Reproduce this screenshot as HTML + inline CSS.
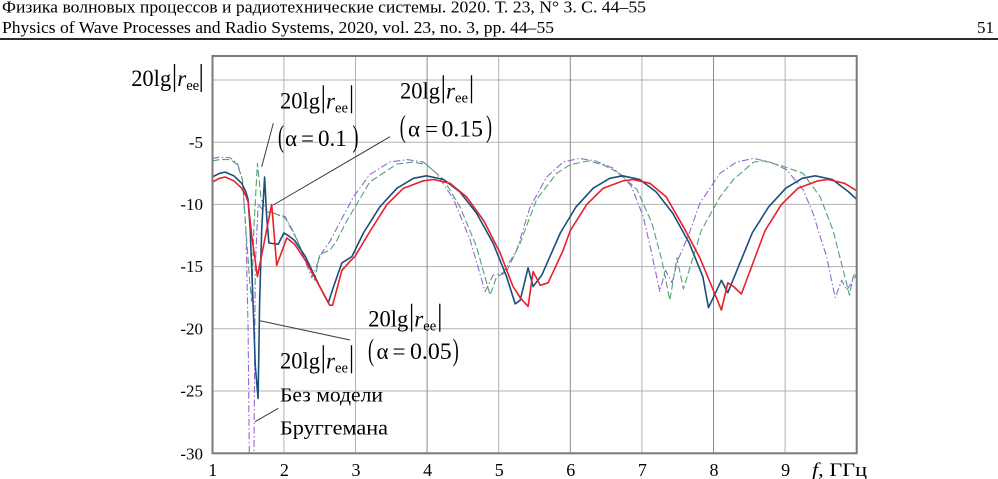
<!DOCTYPE html>
<html>
<head>
<meta charset="utf-8">
<style>
  html, body { margin: 0; padding: 0; background: #fff; }
  body { width: 998px; height: 479px; overflow: hidden; }
  svg { display: block; }
  text { font-family: "Liberation Serif", "DejaVu Serif", serif; fill: #000; }
</style>
</head>
<body>
<svg width="998" height="479" viewBox="0 0 998 479" xmlns="http://www.w3.org/2000/svg">
  <rect x="0" y="0" width="998" height="479" fill="#fff"/>

  <!-- Header -->
  <text x="2" y="12.5" font-size="17" textLength="644" lengthAdjust="spacingAndGlyphs" fill="#222">Физика волновых процессов и радиотехнические системы. 2020. Т. 23, N° 3. С. 44–55</text>
  <text x="2" y="33" font-size="17" textLength="552" lengthAdjust="spacingAndGlyphs" fill="#222">Physics of Wave Processes and Radio Systems, 2020, vol. 23, no. 3, pp. 44–55</text>
  <text x="994" y="33" font-size="17" text-anchor="end" fill="#222">51</text>
  <rect x="0" y="38" width="998" height="2" fill="#2a2a2a"/>

  <!-- Grid -->
  <g stroke="#b3b3b3" stroke-width="1">
    <line x1="212.3" y1="80" x2="856.7" y2="80"/>
    <line x1="212.3" y1="142.2" x2="856.7" y2="142.2"/>
    <line x1="212.3" y1="204.4" x2="856.7" y2="204.4"/>
    <line x1="212.3" y1="266.6" x2="856.7" y2="266.6"/>
    <line x1="212.3" y1="328.8" x2="856.7" y2="328.8"/>
    <line x1="212.3" y1="391.0" x2="856.7" y2="391.0"/>
    <line x1="283.9" y1="56" x2="283.9" y2="453.3"/>
    <line x1="355.5" y1="56" x2="355.5" y2="453.3"/>
    <line x1="498.7" y1="56" x2="498.7" y2="453.3"/>
    <line x1="641.9" y1="56" x2="641.9" y2="453.3"/>
    <line x1="785.1" y1="56" x2="785.1" y2="453.3"/>
  </g>
  <g stroke="#8c8c8c" stroke-width="1">
    <line x1="427.1" y1="56" x2="427.1" y2="453.3"/>
    <line x1="570.3" y1="56" x2="570.3" y2="453.3"/>
    <line x1="713.5" y1="56" x2="713.5" y2="453.3"/>
  </g>

  <defs>
    <clipPath id="plot">
      <rect x="212.3" y="56" width="644.4" height="397.3"/>
    </clipPath>
  </defs>

  <g clip-path="url(#plot)" fill="none" stroke-linejoin="round">
    <!-- Purple dash-dot -->
    <path stroke="#9366d2" stroke-width="1.1" stroke-dasharray="7 2.5 1.5 2.5"
      d="M212.3,158.4 L219.5,157.1 L230.2,157.8 L237.4,163.3 L242.4,179.5 L245.9,229.3 L248.1,328.8 L249.5,478 L253.8,478 L255.3,266.6 L258.1,204.4 L262.4,209.4 L273.9,213.1 L285.3,216.8 L295.4,235.5 L305.4,261.6 L311.8,277.8 L321.8,252.9 L329.7,241.7 L353.4,196.9 L369.8,174.5 L389.9,162.1 L407.1,159.6 L423.5,162.1 L436.4,173.3 L453.6,199.4 L470.3,240.5 L485.1,291.5 L493.0,275.3 L503.0,272.8 L516.6,250.4 L530.2,206.9 L546.7,177.0 L563.1,162.1 L578.9,158.4 L595.4,160.9 L613.3,168.3 L631.2,185.7 L643.3,216.8 L650.5,247.9 L659.8,291.5 L665.5,270.3 L672.0,282.8 L677.7,260.4 L688.4,235.5 L699.9,203.2 L720.0,173.3 L736.4,162.1 L753.6,158.4 L770.1,162.1 L786.5,169.6 L803.0,189.5 L813.0,213.1 L820.2,236.7 L826.6,256.6 L835.2,297.7 L841.7,280.3 L846.7,290.2 L855.3,276.6 L856.7,272.8"/>
    <!-- Green dashed -->
    <path stroke="#4fa271" stroke-width="1.1" stroke-dasharray="7 3"
      d="M212.3,160.9 L219.5,159.6 L230.2,159.6 L237.4,164.6 L242.4,179.5 L245.9,229.3 L249.5,279.0 L251.7,301.4 L253.8,229.3 L257.4,163.3 L261.0,198.2 L266.7,211.9 L273.9,213.1 L285.3,218.1 L295.4,236.7 L305.4,257.9 L314.7,280.3 L319.7,254.2 L329.7,250.4 L336.2,241.7 L346.9,220.6 L369.8,182.0 L397.0,164.0 L413.5,162.1 L426.4,164.6 L443.6,179.5 L460.0,206.9 L476.5,246.7 L490.1,295.2 L496.6,276.6 L505.9,272.8 L520.2,243.0 L536.6,199.4 L556.7,173.3 L570.3,164.6 L588.2,160.9 L602.5,164.6 L619.7,173.3 L636.9,189.5 L651.9,223.1 L661.9,260.4 L669.8,300.2 L677.0,257.9 L683.4,289.0 L701.3,230.5 L720.0,196.9 L733.5,179.5 L753.6,162.1 L763.6,160.9 L781.5,165.8 L803.0,173.3 L820.2,196.9 L833.1,230.5 L849.5,295.2 L853.1,276.6 L856.7,270.3"/>
    <!-- Blue solid -->
    <path stroke="#1b4f7d" stroke-width="1.6"
      d="M212.3,177.0 L219.5,173.3 L225.2,172.1 L233.8,175.8 L241.7,183.3 L245.9,192.0 L248.1,199.4 L250.2,229.3 L253.1,303.9 L255.3,366.1 L258.1,398.5 L259.6,303.9 L261.7,229.3 L264.6,177.0 L266.7,216.8 L268.9,243.0 L278.2,244.2 L283.9,233.0 L288.2,235.5 L294.6,240.5 L305.4,256.6 L319.7,286.5 L328.3,302.7 L334.0,285.3 L341.9,262.9 L351.9,256.6 L363.4,233.0 L379.8,206.9 L397.0,188.2 L413.5,178.3 L426.4,175.8 L443.6,179.5 L460.0,192.0 L476.5,213.1 L493.0,243.0 L506.6,276.6 L515.2,303.9 L520.2,300.2 L528.1,267.8 L533.1,286.5 L541.7,275.3 L560.3,233.0 L576.0,206.9 L593.2,188.2 L609.7,178.3 L622.6,175.8 L639.7,179.5 L656.2,192.0 L672.7,213.1 L689.2,243.0 L702.8,276.6 L708.5,307.7 L721.4,280.3 L727.8,292.7 L752.2,233.0 L768.6,206.9 L785.8,188.2 L802.3,178.3 L815.2,175.8 L832.4,179.5 L848.8,192.0 L856.7,199.4"/>
    <!-- Red solid -->
    <path stroke="#e8202a" stroke-width="1.6"
      d="M212.3,182.0 L219.5,178.3 L225.2,177.0 L233.8,180.8 L241.7,188.2 L245.9,195.7 L248.1,201.9 L251.7,235.5 L257.4,276.6 L271.7,204.4 L276.7,265.4 L286.8,238.0 L294.6,244.2 L305.4,260.4 L319.7,286.5 L329.7,305.2 L332.6,305.2 L341.9,270.3 L349.8,261.6 L354.8,256.6 L370.5,230.5 L387.0,204.4 L403.5,188.2 L423.5,180.8 L433.5,179.5 L450.0,183.3 L466.5,196.9 L483.7,220.6 L500.1,252.9 L513.0,286.5 L520.2,297.7 L528.1,306.4 L533.1,271.6 L540.2,285.3 L548.1,282.8 L563.1,250.4 L570.3,230.5 L586.8,204.4 L603.2,188.2 L623.3,180.8 L633.3,179.5 L649.8,183.3 L666.2,196.9 L683.4,226.8 L699.9,257.9 L712.8,289.0 L721.4,310.1 L727.8,282.8 L733.5,286.5 L741.4,294.0 L765.1,230.5 L781.5,204.4 L798.0,188.2 L818.0,180.8 L828.1,179.5 L844.5,183.3 L856.7,190.7"/>
  </g>

  <!-- Frame -->
  <rect x="212.5" y="56" width="644.2" height="397.3" fill="none" stroke="#7a7a7a" stroke-width="2"/>

  <!-- Y tick labels -->
  <g font-size="17" text-anchor="end">
    <text x="203" y="147.8">-5</text>
    <text x="203" y="210">-10</text>
    <text x="203" y="272.2">-15</text>
    <text x="203" y="334.4">-20</text>
    <text x="203" y="396.6">-25</text>
    <text x="203" y="459.5">-30</text>
  </g>

  <!-- X tick labels -->
  <g font-size="18" text-anchor="middle">
    <text x="212.8" y="476">1</text>
    <text x="284.4" y="476">2</text>
    <text x="356" y="476">3</text>
    <text x="427.6" y="476">4</text>
    <text x="499.2" y="476">5</text>
    <text x="570.8" y="476">6</text>
    <text x="642.4" y="476">7</text>
    <text x="714" y="476">8</text>
    <text x="785.6" y="476">9</text>
  </g>
  <text x="812" y="476" font-size="19" textLength="55" lengthAdjust="spacingAndGlyphs"><tspan font-style="italic">f</tspan>, ГГц</text>

  <!-- Annotation leader lines -->
  <g stroke="#3a3a3a" stroke-width="1" fill="none">
    <line x1="273.3" y1="123.3" x2="261.7" y2="166.7"/>
    <line x1="390" y1="136.7" x2="273.3" y2="205"/>
    <line x1="260" y1="320.7" x2="350" y2="340"/>
    <line x1="255" y1="421.7" x2="278.3" y2="408.3"/>
  </g>

  <!-- Y-axis label: 20lg|r_ee| -->
  <g>
    <text x="131.2" y="86" font-size="23" textLength="40" lengthAdjust="spacingAndGlyphs">20lg</text>
    <line x1="174.5" y1="64" x2="174.5" y2="92" stroke="#000" stroke-width="1.3"/>
    <text x="177.2" y="86" font-size="23" font-style="italic">r</text>
    <text x="186.2" y="90" font-size="15" textLength="13" lengthAdjust="spacingAndGlyphs">ee</text>
    <line x1="201.2" y1="64" x2="201.2" y2="92" stroke="#000" stroke-width="1.3"/>
  </g>

  <!-- Label alpha=0.1 -->
  <g>
    <text x="280" y="108.3" font-size="23" textLength="40" lengthAdjust="spacingAndGlyphs">20lg</text>
    <line x1="323.3" y1="85.3" x2="323.3" y2="113.3" stroke="#000" stroke-width="1.3"/>
    <text x="326" y="108.3" font-size="23" font-style="italic">r</text>
    <text x="335" y="112.3" font-size="15" textLength="13" lengthAdjust="spacingAndGlyphs">ee</text>
    <line x1="351.5" y1="85.3" x2="351.5" y2="113.3" stroke="#000" stroke-width="1.3"/>
    <text x="278" y="146.5" font-size="30.5" textLength="6" lengthAdjust="spacingAndGlyphs">(</text>
    <text x="285" y="146" font-size="23">α</text>
    <text x="301" y="146" font-size="23">=</text>
    <text x="318" y="146" font-size="23">0.1</text>
    <text x="352.5" y="146.5" font-size="30.5" textLength="6" lengthAdjust="spacingAndGlyphs">)</text>
  </g>

  <!-- Label alpha=0.15 -->
  <g>
    <text x="400" y="98.3" font-size="23" textLength="40" lengthAdjust="spacingAndGlyphs">20lg</text>
    <line x1="443.3" y1="75.3" x2="443.3" y2="103.3" stroke="#000" stroke-width="1.3"/>
    <text x="446" y="98.3" font-size="23" font-style="italic">r</text>
    <text x="455" y="102.3" font-size="15" textLength="13" lengthAdjust="spacingAndGlyphs">ee</text>
    <line x1="471.5" y1="75.3" x2="471.5" y2="103.3" stroke="#000" stroke-width="1.3"/>
    <text x="399.7" y="136.5" font-size="30.5" textLength="6" lengthAdjust="spacingAndGlyphs">(</text>
    <text x="408" y="136.7" font-size="23">α</text>
    <text x="425" y="136.7" font-size="23">=</text>
    <text x="441.5" y="136.7" font-size="23" textLength="41.5" lengthAdjust="spacingAndGlyphs">0.15</text>
    <text x="486" y="136.5" font-size="30.5" textLength="6" lengthAdjust="spacingAndGlyphs">)</text>
  </g>

  <!-- Label alpha=0.05 -->
  <g>
    <text x="368.3" y="326.7" font-size="23" textLength="40" lengthAdjust="spacingAndGlyphs">20lg</text>
    <line x1="411.6" y1="303.7" x2="411.6" y2="331.7" stroke="#000" stroke-width="1.3"/>
    <text x="414.3" y="326.7" font-size="23" font-style="italic">r</text>
    <text x="423.3" y="330.7" font-size="15" textLength="13" lengthAdjust="spacingAndGlyphs">ee</text>
    <line x1="439.8" y1="303.7" x2="439.8" y2="331.7" stroke="#000" stroke-width="1.3"/>
    <text x="368" y="360" font-size="30.5" textLength="6" lengthAdjust="spacingAndGlyphs">(</text>
    <text x="376.5" y="358.8" font-size="23">α</text>
    <text x="392.5" y="358.8" font-size="23">=</text>
    <text x="410" y="358.8" font-size="23" textLength="41.7" lengthAdjust="spacingAndGlyphs">0.05</text>
    <text x="452.8" y="360" font-size="30.5" textLength="6" lengthAdjust="spacingAndGlyphs">)</text>
  </g>

  <!-- Label: without Bruggeman model -->
  <g>
    <text x="280" y="368.3" font-size="23" textLength="40" lengthAdjust="spacingAndGlyphs">20lg</text>
    <line x1="323.3" y1="345.3" x2="323.3" y2="373.3" stroke="#000" stroke-width="1.3"/>
    <text x="326" y="368.3" font-size="23" font-style="italic">r</text>
    <text x="335" y="372.3" font-size="15" textLength="13" lengthAdjust="spacingAndGlyphs">ee</text>
    <line x1="351.5" y1="345.3" x2="351.5" y2="373.3" stroke="#000" stroke-width="1.3"/>
    <text x="280" y="401.7" font-size="20" textLength="103" lengthAdjust="spacingAndGlyphs">Без модели</text>
    <text x="280" y="434.3" font-size="20" textLength="108" lengthAdjust="spacingAndGlyphs">Бруггемана</text>
  </g>
</svg>
</body>
</html>
